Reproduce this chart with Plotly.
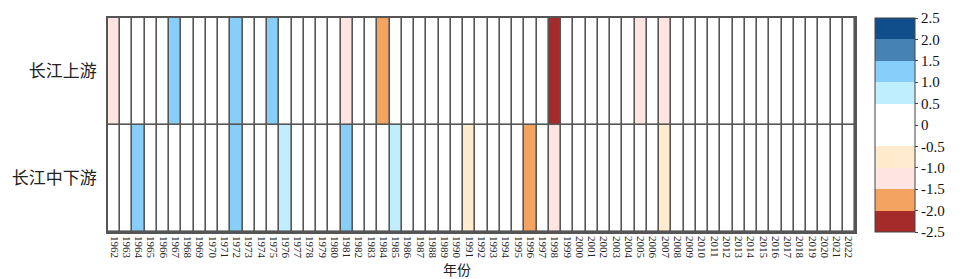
import plotly.graph_objects as go

years = list(range(1962, 2023))
regions = ["长江上游", "长江中下游"]

upper_events = {1962: -1.2, 1967: 1.2, 1972: 1.2, 1975: 1.2, 1981: -1.2,
                1984: -1.7, 1998: -2.2, 2005: -1.2, 2007: -1.2}
lower_events = {1964: 1.2, 1972: 1.2, 1976: 0.7, 1981: 1.2, 1985: 0.7,
                1991: -0.7, 1996: -1.7, 1998: -1.2, 2007: -0.7}

upper_values = [upper_events.get(y, 0.0) for y in years]
lower_values = [lower_events.get(y, 0.0) for y in years]

bin_colors = ["#A52A2A", "#F4A460", "#FFE4E1", "#FFEBCD", "#FFFFFF",
              "#FFFFFF", "#BFEFFF", "#87CEFA", "#4682B4", "#104E8B"]
tick_vals = [-2.5, -2.0, -1.5, -1.0, -0.5, 0, 0.5, 1.0, 1.5, 2.0, 2.5]
tick_text = ["-2.5", "-2.0", "-1.5", "-1.0", "-0.5", "0", "0.5", "1.0", "1.5", "2.0", "2.5"]

n = len(bin_colors)
colorscale = []
for i, c in enumerate(bin_colors):
    colorscale.append([i / n, c])
    colorscale.append([(i + 1) / n, c])

serif = "Liberation Serif, Times New Roman, Noto Sans CJK SC, serif"
year_labels = [str(y) for y in years]

fig = go.Figure(go.Heatmap(
    z=[lower_values, upper_values],
    x=year_labels,
    y=[regions[1], regions[0]],
    zmin=-2.5, zmax=2.5,
    colorscale=colorscale,
    xgap=1.6, ygap=1.6,
    colorbar=dict(
        tickvals=tick_vals, ticktext=tick_text,
        thickness=40, len=1.0, lenmode="fraction",
        x=1.027, xanchor="left", y=0.5, yanchor="middle",
        outlinecolor="#444", outlinewidth=1,
        ticks="outside", ticklen=3, tickcolor="#444",
        tickfont=dict(family=serif, size=15, color="#111"),
        xpad=0, ypad=0,
    ),
    hoverongaps=False,
))

fig.update_layout(
    width=965, height=271,
    margin=dict(l=100, r=118, t=10, b=47, autoexpand=False),
    plot_bgcolor="#555555",
    paper_bgcolor="white",
    font=dict(family=serif, color="#111"),
)
fig.update_xaxes(
    type="category", tickangle=90, tickfont=dict(family=serif, size=11, color="#222"),
    tickmode="array", tickvals=year_labels, ticktext=year_labels,
    showline=True, mirror=True, linecolor="#555", linewidth=1.5,
    showgrid=False, ticks="", ticklen=0, automargin=False,
)
fig.update_yaxes(
    type="category", tickfont=dict(family="Noto Sans CJK SC", size=17, color="#222"),
    showline=True, mirror=True, linecolor="#555", linewidth=1.5,
    showgrid=False, ticks="", ticklen=0, automargin=False,
    ticklabelstandoff=6,
)
fig.add_annotation(
    text="年份", x=0.467, xref="paper", y=-0.115, yref="paper",
    yanchor="top", showarrow=False,
    font=dict(family="Noto Sans CJK SC", size=14, color="#222"),
)
fig.write_html("out.html")
